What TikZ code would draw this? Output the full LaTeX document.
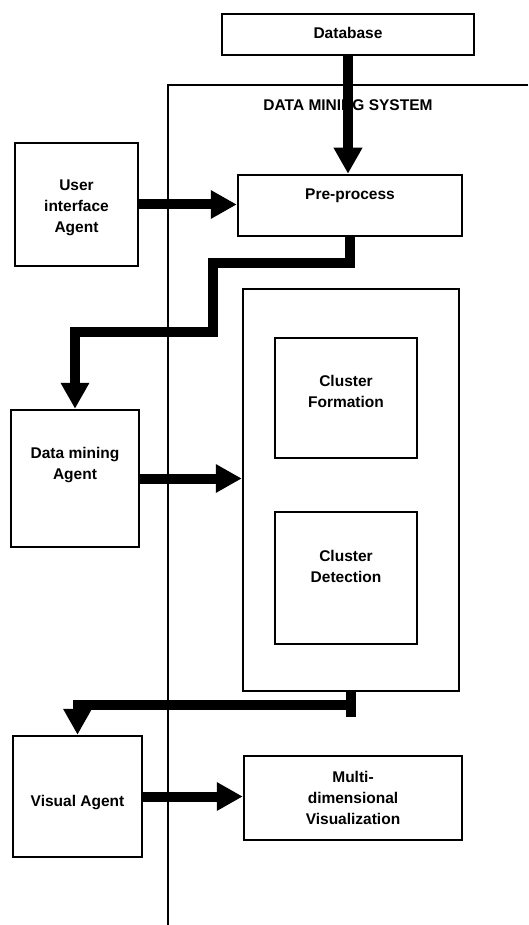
\documentclass[tikz,border=0pt]{standalone}
\usepackage{fontspec}
\setmainfont{Liberation Sans}
\usetikzlibrary{arrows.meta}

\begin{document}
\begin{tikzpicture}[x=1pt,y=-1pt,every node/.style={font=\bfseries\fontsize{15.5}{21}\selectfont},
	box/.style={draw=black,line width=2.5pt,align=center,inner sep=0pt},
	tb/.style 2 args={text height=#1pt,text depth=#2pt},
	flow/.style={line width=10pt,-{Triangle[length=26pt,width=27pt]}}]

		\useasboundingbox (0,0) rectangle (528,925);

		%system frame
		\draw[line width=2.5pt] (528,85) -| (168,925);
		\node (sys) at (348,105) {DATA MINING SYSTEM};

		%boxes
		\node[box,tb={25}{16},minimum width=252pt] (db) at (348,34.5) {Database};
		\node[box,tb={25}{36},minimum width=224pt] (pre) at (350,205.5) {Pre-process};
		\node[box,tb={90}{33},minimum width=123pt] (ui) at (76.5,204.5) {User\\interface\\Agent};
		\node[box,tb={69}{68},minimum width=128pt] (dm) at (75,478.5) {Data mining\\Agent};
		\node[box,minimum width=216pt,minimum height=402pt] (big) at (351,490) {};
		\node[box,tb={69}{51},minimum width=142pt] (cf) at (346,398) {Cluster\\Formation};
		\node[box,tb={70}{62},minimum width=142pt] (cd) at (346,578) {Cluster\\Detection};
		\node[box,tb={70}{51},minimum width=129pt] (va) at (77.5,796.5) {Visual Agent};
		\node[box,tb={68}{16},minimum width=218pt] (mv) at (353,798) {Multi-\\dimensional\\Visualization};

		%stub below the cluster box
		\coordinate (stub) at (big.south |- 0,717);
		\coordinate (bend) at (big.south |- 0,705);

		%arrows
		\draw[flow] (db.south) -- (db.south |- pre.north);
		\draw[flow] (ui.east) -- (ui.east -| pre.west);
		\draw[flow] (pre.south) |- (213,263) -- (213,332) -| (dm.north);
		\draw[flow] (dm.east) -- (dm.east -| big.west);
		\draw[line width=10pt] (big.south) -- (stub);
		\draw[flow,line cap=rect] (bend) -| (va.north);
		\draw[flow] (va.east) -- (va.east -| mv.west);
\end{tikzpicture}
\end{document}
